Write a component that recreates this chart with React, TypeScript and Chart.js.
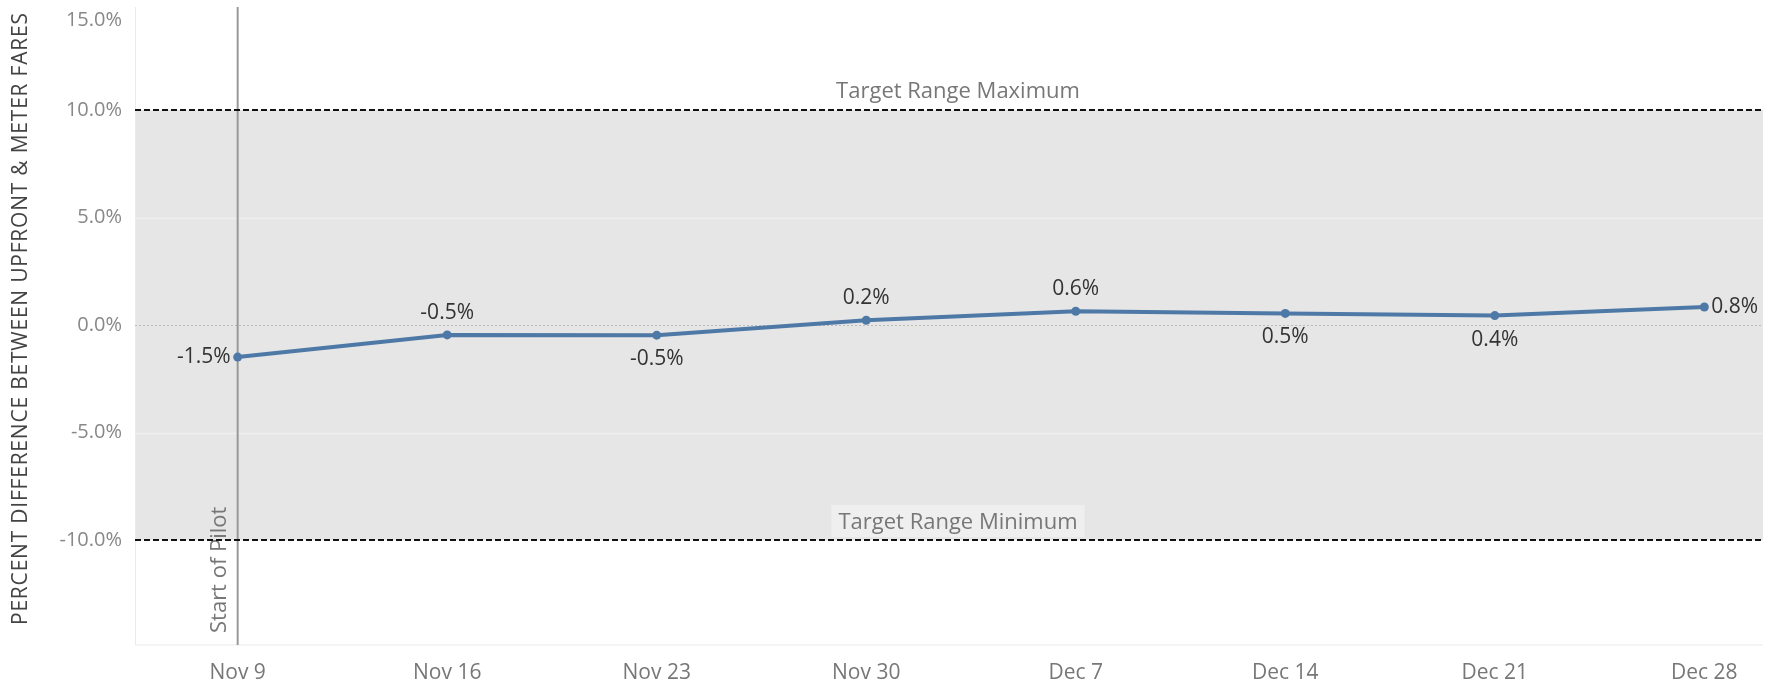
import React, { useEffect, useRef } from 'react';
import { Chart, registerables } from 'chart.js';
Chart.register(...registerables);

const categories = ['Nov 9', 'Nov 16', 'Nov 23', 'Nov 30', 'Dec 7', 'Dec 14', 'Dec 21', 'Dec 28'];
const pctDiff = [-1.49, -0.46, -0.47, 0.22, 0.64, 0.54, 0.44, 0.84];
const labelPlacement = ['left', 'above', 'below', 'above', 'above', 'below', 'below', 'right'];
const yTicks = [-10, -5, 0, 5, 10, 15];
const targetMax = 10;
const targetMin = -10;
const targetMaxLabel = 'Target Range Maximum';
const targetMinLabel = 'Target Range Minimum';
const pilotIndex = 0;
const pilotLabel = 'Start of Pilot';
const yTitle = 'PERCENT DIFFERENCE BETWEEN UPFRONT & METER FARES';

const FONT = '"Open Sans", "Noto Sans", sans-serif';
const LINE_COLOR = '#4e79a7';

export default function App() {
  const ref = useRef<HTMLCanvasElement>(null);

  useEffect(() => {
    document.body.style.margin = '0';
    const canvas = ref.current!;

    const bgPlugin = {
      id: 'bgPlugin',
      beforeDatasetsDraw(chart: any) {
        const { ctx, chartArea: a, scales } = chart;
        const x = scales.x;
        const y = scales.y;
        ctx.save();
        // plot borders
        ctx.strokeStyle = '#ebebeb';
        ctx.lineWidth = 1;
        ctx.beginPath();
        ctx.moveTo(a.left + 0.5, a.top);
        ctx.lineTo(a.left + 0.5, a.bottom);
        ctx.lineTo(a.right, a.bottom);
        ctx.stroke();
        // band
        const yMax = y.getPixelForValue(targetMax);
        const yMin = y.getPixelForValue(targetMin);
        ctx.fillStyle = '#e6e6e6';
        ctx.fillRect(a.left + 1, yMax, a.right - a.left - 1, yMin - yMax);
        // grid lines
        ctx.strokeStyle = '#efefef';
        ctx.lineWidth = 1.5;
        [5, -5].forEach((v) => {
          const py = Math.round(y.getPixelForValue(v)) + 0.5;
          ctx.beginPath();
          ctx.moveTo(a.left, py);
          ctx.lineTo(a.right, py);
          ctx.stroke();
        });
        // zero line dotted
        ctx.strokeStyle = '#bbbbbb';
        ctx.lineWidth = 1;
        ctx.setLineDash([2, 2]);
        const py0 = Math.round(y.getPixelForValue(0)) + 0.5;
        ctx.beginPath();
        ctx.moveTo(a.left, py0);
        ctx.lineTo(a.right, py0);
        ctx.stroke();
        ctx.setLineDash([]);
        // pilot vertical line
        const px = x.getPixelForValue(pilotIndex);
        ctx.strokeStyle = '#999999';
        ctx.lineWidth = 2;
        ctx.beginPath();
        ctx.moveTo(px, a.top);
        ctx.lineTo(px, a.bottom);
        ctx.stroke();
        // pilot label
        ctx.save();
        ctx.translate(px - 18, a.bottom - 12);
        ctx.rotate(-Math.PI / 2);
        ctx.font = `22px ${FONT}`;
        ctx.fillStyle = '#777777';
        ctx.textAlign = 'left';
        ctx.textBaseline = 'middle';
        ctx.fillText(pilotLabel, 0, 0);
        ctx.restore();
        // target labels
        const cx = 958;
        ctx.font = `22px ${FONT}`;
        ctx.textAlign = 'center';
        ctx.textBaseline = 'middle';
        ctx.fillStyle = '#777777';
        ctx.fillText(targetMaxLabel, cx, yMax - 18);
        const w = ctx.measureText(targetMinLabel).width;
        ctx.fillStyle = '#efefef';
        ctx.fillRect(cx - w / 2 - 7, yMin - 35, w + 14, 32);
        ctx.fillStyle = '#777777';
        ctx.fillText(targetMinLabel, cx, yMin - 17);
        // dashed target lines
        ctx.strokeStyle = '#111111';
        ctx.lineWidth = 2;
        ctx.setLineDash([6, 3]);
        [yMax, yMin].forEach((py) => {
          ctx.beginPath();
          ctx.moveTo(a.left, Math.round(py));
          ctx.lineTo(a.right, Math.round(py));
          ctx.stroke();
        });
        ctx.setLineDash([]);
        // y tick labels
        ctx.font = `20px ${FONT}`;
        ctx.fillStyle = '#888888';
        ctx.textAlign = 'right';
        ctx.textBaseline = 'middle';
        yTicks.forEach((v) => {
          const ty = Math.max(y.getPixelForValue(v), a.top + 13);
          ctx.fillText(v.toFixed(1) + '%', a.left - 13, ty);
        });
        // y axis title
        ctx.save();
        ctx.translate(21, 319);
        ctx.rotate(-Math.PI / 2);
        ctx.font = `21px ${FONT}`;
        const tw = ctx.measureText(yTitle).width;
        const spacing = Math.max(0, (612 - tw) / (yTitle.length - 1));
        (ctx as any).letterSpacing = `${spacing}px`;
        ctx.fillStyle = '#444444';
        ctx.textAlign = 'center';
        ctx.textBaseline = 'middle';
        ctx.fillText(yTitle, spacing / 2, 0);
        ctx.restore();
        ctx.restore();
      },
      afterDatasetsDraw(chart: any) {
        const { ctx } = chart;
        const meta = chart.getDatasetMeta(0);
        ctx.save();
        ctx.font = `21px ${FONT}`;
        ctx.fillStyle = '#333333';
        ctx.textBaseline = 'middle';
        meta.data.forEach((pt: any, i: number) => {
          const txt = pctDiff[i].toFixed(1) + '%';
          const pos = labelPlacement[i];
          if (pos === 'left') {
            ctx.textAlign = 'right';
            ctx.fillText(txt, pt.x - 7, pt.y);
          } else if (pos === 'right') {
            ctx.textAlign = 'left';
            ctx.fillText(txt, pt.x + 7, pt.y);
          } else if (pos === 'above') {
            ctx.textAlign = 'center';
            ctx.fillText(txt, pt.x, pt.y - 22);
          } else {
            ctx.textAlign = 'center';
            ctx.fillText(txt, pt.x, pt.y + 24);
          }
        });
        ctx.restore();
      },
    };

    const chart = new Chart(canvas, {
      type: 'line',
      data: {
        datasets: [
          {
            data: pctDiff.map((v, i) => ({ x: i, y: v })),
            borderColor: LINE_COLOR,
            backgroundColor: LINE_COLOR,
            borderWidth: 4,
            pointRadius: 4.5,
            pointBorderWidth: 0,
            tension: 0,
          },
        ],
      },
      options: {
        responsive: false,
        animation: false,
        layout: { padding: { left: 0, top: 7, right: 15, bottom: 0 } },
        plugins: { legend: { display: false }, tooltip: { enabled: false } },
        scales: {
          x: {
            type: 'linear',
            min: -0.49,
            max: 7.28,
            afterBuildTicks: (scale: any) => {
              scale.ticks = categories.map((_, i) => ({ value: i }));
            },
            afterFit: (scale: any) => {
              scale.height = 43;
            },
            ticks: {
              callback: (v: any) => categories[v] ?? '',
              font: { family: FONT, size: 21 },
              color: '#777777',
              padding: 15,
              maxRotation: 0,
              autoSkip: false,
            },
            grid: { display: false, drawTicks: false },
            border: { display: false },
          },
          y: {
            type: 'linear',
            min: -14.88,
            max: 14.79,
            afterFit: (scale: any) => {
              scale.width = 135;
            },
            ticks: { display: false },
            grid: { display: false, drawTicks: false },
            border: { display: false },
          },
        },
      },
      plugins: [bgPlugin],
    } as any);
    return () => chart.destroy();
  }, []);

  return (
    <div style={{ width: 1778, height: 688 }}>
      <canvas ref={ref} width={1778} height={688} />
    </div>
  );
}
